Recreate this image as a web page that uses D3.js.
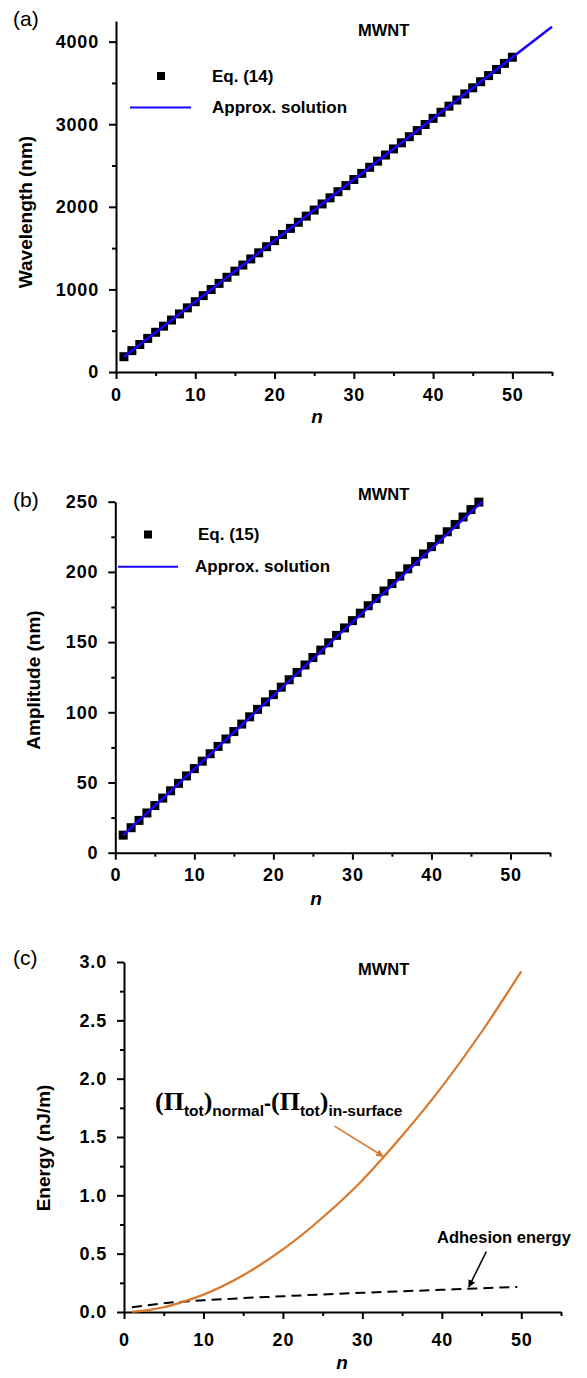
<!DOCTYPE html>
<html>
<head>
<meta charset="utf-8">
<script src="https://cdn.jsdelivr.net/npm/d3@7"></script>
<style>
body { margin: 0; background: #fff; }
svg text { font-family: "Liberation Sans", Arial, sans-serif; fill: #000; }
.axis path, .axis line { stroke: #000; stroke-width: 2; }
.axis text { font-size: 18px; font-weight: bold; letter-spacing: 0.8px; }
</style>
</head>
<body>
<svg id="chart" width="587" height="1378"></svg>
<script>
// ---- data ----
// (a) wavelength, Eq. (14), n = 1..50
const waveN = d3.range(1, 51);
const waveVals = [185, 259, 333, 407, 481, 555, 629, 703, 777, 851,
    925, 999, 1073, 1147, 1221, 1295, 1369, 1443, 1517, 1591,
    1665, 1739, 1813, 1887, 1961, 2035, 2109, 2183, 2257, 2331,
    2405, 2479, 2553, 2627, 2701, 2775, 2849, 2923, 2997, 3071,
    3145, 3219, 3293, 3367, 3441, 3515, 3589, 3663, 3737, 3811];
const waveFitN = [1, 55];
const waveFitVals = [185, 4181];

// (b) amplitude, Eq. (15), n = 1..46
const ampN = d3.range(1, 47);
const ampVals = [12.5, 17.8, 23.0, 28.3, 33.6, 38.9, 44.1, 49.4, 54.7, 59.9,
    65.2, 70.5, 75.7, 81.0, 86.3, 91.6, 96.8, 102.1, 107.4, 112.6,
    117.9, 123.2, 128.4, 133.7, 139.0, 144.3, 149.5, 154.8, 160.1, 165.3,
    170.6, 175.9, 181.1, 186.4, 191.7, 197.0, 202.2, 207.5, 212.8, 218.0,
    223.3, 228.6, 233.8, 239.1, 244.4, 249.7];
const ampFitN = [1, 46.4];
const ampFitVals = [12.5, 250];

// (c) energies
const energyN = [1, 3, 5, 8, 10, 15, 20, 25, 30, 35, 40, 45, 50];
const energyVals = [0.002, 0.016, 0.041, 0.10, 0.149, 0.315, 0.536, 0.81, 1.13, 1.51, 1.93, 2.40, 2.92];
const adhesionN = [1, 5, 10, 20, 30, 40, 49.5];
const adhesionVals = [0.04, 0.075, 0.10, 0.135, 0.165, 0.19, 0.215];

// ticks
const xMajor = [0, 10, 20, 30, 40, 50];
const xMinor = [5, 15, 25, 35, 45, 55];
const waveMajor = [0, 1000, 2000, 3000, 4000];
const waveMinor = [500, 1500, 2500, 3500];
const ampMajor = [0, 50, 100, 150, 200, 250];
const ampMinor = [25, 75, 125, 175, 225];
const energyMajor = [0, 0.5, 1.0, 1.5, 2.0, 2.5, 3.0];
const energyMinor = [0.25, 0.75, 1.25, 1.75, 2.25, 2.75];

const BLUE = '#1a00ff';
const ORANGE = '#d9782d';

const svg = d3.select('#chart');

const defs = svg.append('defs');
function addArrow(id, color) {
    defs.append('marker')
        .attr('id', id)
        .attr('viewBox', '0 -5 10 10')
        .attr('refX', 9)
        .attr('refY', 0)
        .attr('markerWidth', 5)
        .attr('markerHeight', 5)
        .attr('orient', 'auto')
        .append('path')
        .attr('d', 'M0,-5L10,0L0,5Z')
        .attr('fill', color);
}
addArrow('arrowOrange', ORANGE);
addArrow('arrowBlack', '#000');

// Axes for one panel
function drawAxes(p) {
    const g = svg.append('g');

    g.append('g').attr('class', 'axis')
        .attr('transform', `translate(0,${p.y.range()[0]})`)
        .call(d3.axisBottom(p.x).tickValues(xMajor).tickSize(7).tickSizeOuter(0)
            .tickPadding(p.xPad).tickFormat(d3.format('d')));
    g.append('g').attr('class', 'axis')
        .attr('transform', `translate(0,${p.y.range()[0]})`)
        .call(d3.axisBottom(p.x).tickValues(xMinor).tickSize(4).tickSizeOuter(0).tickFormat(''))
        .select('.domain').remove();

    g.append('g').attr('class', 'axis')
        .attr('transform', `translate(${p.x.range()[0]},0)`)
        .call(d3.axisLeft(p.y).tickValues(p.yMajor).tickSize(7).tickSizeOuter(0)
            .tickPadding(10).tickFormat(p.yFmt));
    g.append('g').attr('class', 'axis')
        .attr('transform', `translate(${p.x.range()[0]},0)`)
        .call(d3.axisLeft(p.y).tickValues(p.yMinor).tickSize(4).tickSizeOuter(0).tickFormat(''))
        .select('.domain').remove();

    // axis titles
    g.append('text')
        .attr('x', p.nX).attr('y', p.nY)
        .attr('text-anchor', 'middle')
        .style('font-size', '19px').style('font-weight', 'bold').style('font-style', 'italic')
        .text('n');
    g.append('text')
        .attr('transform', `translate(${p.titleX},${p.titleY}) rotate(-90)`)
        .attr('text-anchor', 'middle')
        .style('font-size', '19px').style('font-weight', 'bold')
        .text(p.title);

    // panel tag and MWNT label
    g.append('text')
        .attr('x', 13).attr('y', p.tagY)
        .style('font-size', '21px')
        .text(p.tag);
    g.append('text')
        .attr('x', 358).attr('y', p.mwntY)
        .style('font-size', '16.5px').style('font-weight', 'bold')
        .text('MWNT');
    return g;
}

// ---------- (a) ----------
const xA = d3.scaleLinear().domain([0, 55]).range([116, 552]);
const yA = d3.scaleLinear().domain([0, 4250]).range([372, 21]);
drawAxes({ x: xA, y: yA, yMajor: waveMajor, yMinor: waveMinor, yFmt: d3.format('d'),
    xPad: 9, nX: 317, nY: 423, title: 'Wavelength (nm)', titleX: 32, titleY: 212,
    tag: '(a)', tagY: 26, mwntY: 36 });

svg.append('g').selectAll('rect')
    .data(waveN.map((n, i) => [n, waveVals[i]]))
    .join('rect')
    .attr('x', d => xA(d[0]) - 4.5).attr('y', d => yA(d[1]) - 4.5)
    .attr('width', 9).attr('height', 9)
    .attr('fill', '#000');

svg.append('path')
    .datum(waveFitN.map((n, i) => [n, waveFitVals[i]]))
    .attr('fill', 'none').attr('stroke', BLUE).attr('stroke-width', 2.5)
    .attr('d', d3.line().x(d => xA(d[0])).y(d => yA(d[1])));

// legend (a)
svg.append('rect').attr('x', 157).attr('y', 72).attr('width', 8).attr('height', 8).attr('fill', '#000');
svg.append('text').attr('x', 212).attr('y', 82)
    .style('font-size', '17px').style('font-weight', 'bold').text('Eq. (14)');
svg.append('line').attr('x1', 130).attr('x2', 191).attr('y1', 107.5).attr('y2', 107.5)
    .attr('stroke', BLUE).attr('stroke-width', 2);
svg.append('text').attr('x', 212).attr('y', 113)
    .style('font-size', '17px').style('font-weight', 'bold').text('Approx. solution');

// ---------- (b) ----------
const xB = d3.scaleLinear().domain([0, 55]).range([115.3, 550]);
const yB = d3.scaleLinear().domain([0, 250]).range([852.7, 501.7]);
drawAxes({ x: xB, y: yB, yMajor: ampMajor, yMinor: ampMinor, yFmt: d3.format('d'),
    xPad: 9, nX: 316, nY: 905, title: 'Amplitude (nm)', titleX: 40, titleY: 680,
    tag: '(b)', tagY: 507, mwntY: 500 });

svg.append('g').selectAll('rect')
    .data(ampN.map((n, i) => [n, ampVals[i]]))
    .join('rect')
    .attr('x', d => xB(d[0]) - 4.5).attr('y', d => yB(d[1]) - 4.5)
    .attr('width', 9).attr('height', 9)
    .attr('fill', '#000');

svg.append('path')
    .datum(ampFitN.map((n, i) => [n, ampFitVals[i]]))
    .attr('fill', 'none').attr('stroke', BLUE).attr('stroke-width', 2.5)
    .attr('d', d3.line().x(d => xB(d[0])).y(d => yB(d[1])));

// legend (b)
svg.append('rect').attr('x', 144).attr('y', 530.5).attr('width', 8).attr('height', 8).attr('fill', '#000');
svg.append('text').attr('x', 198).attr('y', 540)
    .style('font-size', '17px').style('font-weight', 'bold').text('Eq. (15)');
svg.append('line').attr('x1', 118).attr('x2', 178).attr('y1', 566.7).attr('y2', 566.7)
    .attr('stroke', BLUE).attr('stroke-width', 2);
svg.append('text').attr('x', 195).attr('y', 572)
    .style('font-size', '17px').style('font-weight', 'bold').text('Approx. solution');

// ---------- (c) ----------
const xC = d3.scaleLinear().domain([0, 55]).range([124, 561]);
const yC = d3.scaleLinear().domain([0, 3]).range([1312, 962]);
drawAxes({ x: xC, y: yC, yMajor: energyMajor, yMinor: energyMinor, yFmt: d3.format('.1f'),
    xPad: 14, nX: 342, nY: 1369, title: 'Energy (nJ/m)', titleX: 50, titleY: 1148,
    tag: '(c)', tagY: 965, mwntY: 975 });

const lineC = d3.line().curve(d3.curveMonotoneX).x(d => xC(d[0])).y(d => yC(d[1]));

svg.append('path')
    .datum(adhesionN.map((n, i) => [n, adhesionVals[i]]))
    .attr('fill', 'none').attr('stroke', '#000').attr('stroke-width', 2)
    .attr('stroke-dasharray', '10,6')
    .attr('d', lineC);

svg.append('path')
    .datum(energyN.map((n, i) => [n, energyVals[i]]))
    .attr('fill', 'none').attr('stroke', ORANGE).attr('stroke-width', 2.2)
    .attr('d', lineC);

// annotation: (Π_tot)_normal - (Π_tot)_in-surface
const ann = svg.append('text').attr('x', 155).attr('y', 1110).style('font-weight', 'bold');
const serif = '"Liberation Serif", "Times New Roman", serif';
ann.append('tspan').style('font-family', serif).style('font-size', '26px').text('(\u03A0');
ann.append('tspan').attr('dy', 6).style('font-size', '15.5px').text('tot');
ann.append('tspan').attr('dy', -6).style('font-family', serif).style('font-size', '26px').text(')');
ann.append('tspan').attr('dy', 6).style('font-size', '15.5px').text('normal');
ann.append('tspan').attr('dy', -6).style('font-size', '21px').text('-');
ann.append('tspan').style('font-family', serif).style('font-size', '26px').text('(\u03A0');
ann.append('tspan').attr('dy', 6).style('font-size', '15.5px').text('tot');
ann.append('tspan').attr('dy', -6).style('font-family', serif).style('font-size', '26px').text(')');
ann.append('tspan').attr('dy', 6).style('font-size', '15.5px').text('in-surface');

svg.append('line')
    .attr('x1', xC(26.5)).attr('y1', yC(1.594))
    .attr('x2', xC(32.6)).attr('y2', yC(1.335))
    .attr('stroke', ORANGE).attr('stroke-width', 1.5)
    .attr('marker-end', 'url(#arrowOrange)');

svg.append('text').attr('x', 437).attr('y', 1243)
    .style('font-size', '16.5px').style('font-weight', 'bold').text('Adhesion energy');

svg.append('line')
    .attr('x1', xC(45.6)).attr('y1', yC(0.517))
    .attr('x2', xC(43.4)).attr('y2', yC(0.215))
    .attr('stroke', '#000').attr('stroke-width', 1.5)
    .attr('marker-end', 'url(#arrowBlack)');
</script>
</body>
</html>
